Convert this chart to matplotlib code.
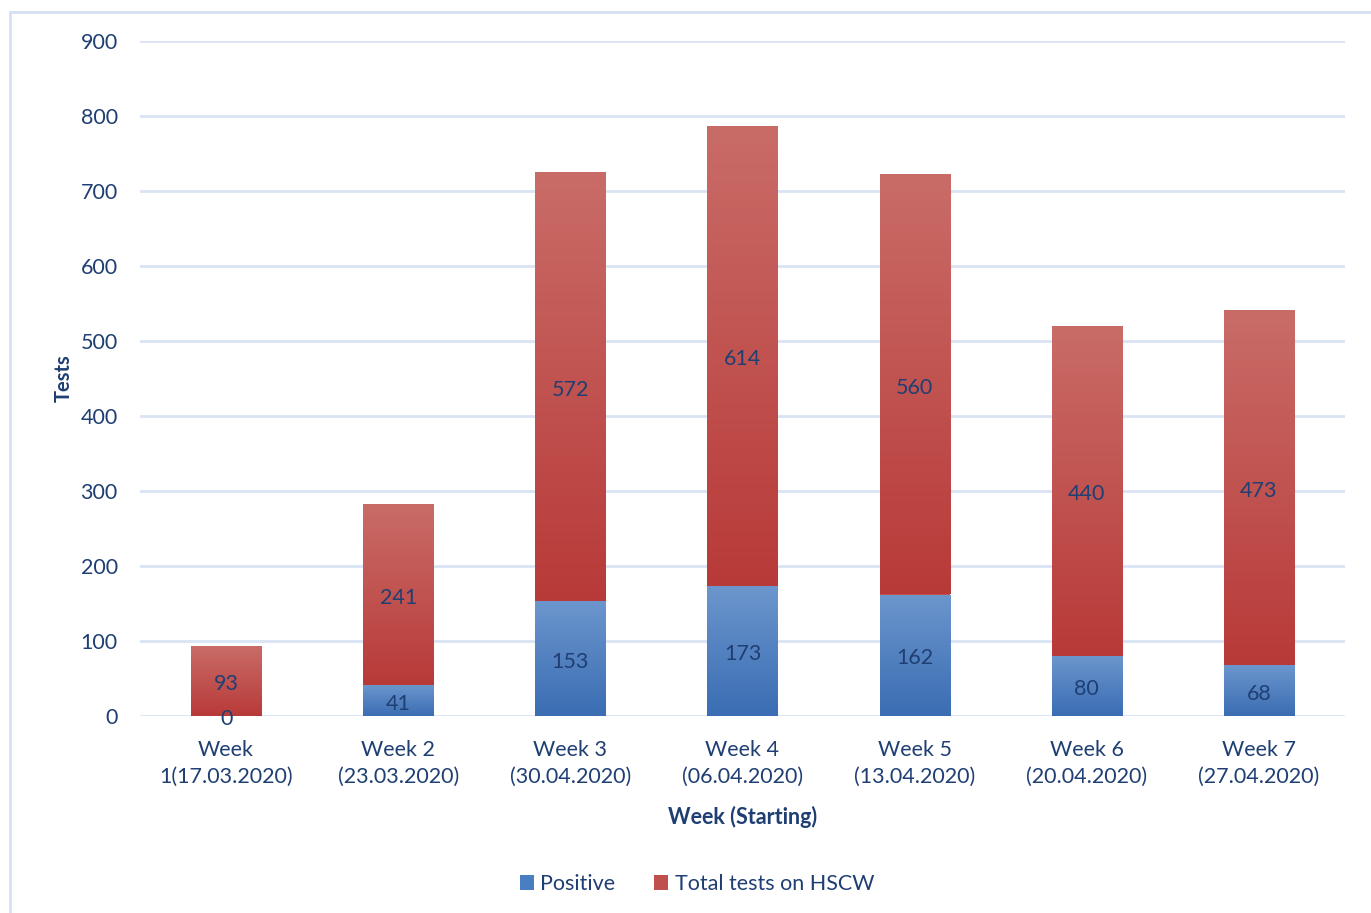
import numpy as np
import matplotlib.pyplot as plt
from matplotlib.colors import LinearSegmentedColormap
from matplotlib.patches import Rectangle

weeks = ['Week\n1(17.03.2020)', 'Week 2\n(23.03.2020)', 'Week 3\n(30.04.2020)',
         'Week 4\n(06.04.2020)', 'Week 5\n(13.04.2020)', 'Week 6\n(20.04.2020)',
         'Week 7\n(27.04.2020)']
positive = [0, 41, 153, 173, 162, 80, 68]
total_hscw = [93, 241, 572, 614, 560, 440, 473]

txt = '#1F3F73'
plt.rcParams['font.family'] = ['Lato', 'DejaVu Sans']

fig = plt.figure(figsize=(13.71, 9.13), dpi=100)
ax = fig.add_axes([140 / 1371, 197 / 913, 1205 / 1371, 675 / 913])

# outer chart border
fig.patches.append(Rectangle((10 / 1371, -0.01), 1.2, (913 - 12) / 913 + 0.01,
                             transform=fig.transFigure, fill=False,
                             edgecolor='#D5E1F2', linewidth=2))

x = np.arange(len(weeks))
w = 0.407
b1 = ax.bar(x, positive, w, color='#4A7EC2', label='Positive', zorder=2)
b2 = ax.bar(x, total_hscw, w, bottom=positive, color='#C0504D',
            label='Total tests on HSCW', zorder=2)

blue = LinearSegmentedColormap.from_list('b', ['#3A6DB3', '#6C96CD'])
red = LinearSegmentedColormap.from_list('r', ['#B83A38', '#C96C68'])
grad = np.linspace(0, 1, 256).reshape(-1, 1)
for bars, cm in ((b1, blue), (b2, red)):
    for p in bars:
        if p.get_height() <= 0:
            continue
        x0, y0 = p.get_x(), p.get_y()
        im = ax.imshow(grad, cmap=cm, origin='lower', aspect='auto',
                       extent=(x0, x0 + p.get_width(), y0, y0 + p.get_height()),
                       zorder=2.1)
        im.set_clip_path(p)

fs = 15.5
for i in range(len(weeks)):
    ax.text(x[i], positive[i] / 2 - 4, str(positive[i]), ha='center', va='center',
            fontsize=fs, color=txt, zorder=3)
    ax.text(x[i], positive[i] + total_hscw[i] / 2 - 4, str(total_hscw[i]),
            ha='center', va='center', fontsize=fs, color=txt, zorder=3)

ax.set_xlim(-0.5, len(weeks) - 0.5)
ax.set_ylim(0, 900)
ax.set_yticks(range(0, 901, 100))
ax.set_xticks(x)
ax.set_xticklabels(weeks, fontsize=fs, color=txt, linespacing=1.45)
ax.tick_params(axis='y', labelsize=fs, labelcolor=txt, length=0, pad=16)
ax.tick_params(axis='x', length=0, pad=17)
ax.grid(axis='y', color='#D9E3F3', linewidth=2, zorder=0)
ax.set_axisbelow(True)
for s in ax.spines.values():
    s.set_visible(False)

ax.set_ylabel('Tests', fontsize=14.5, fontweight='bold', color=txt, labelpad=5)
ax.set_xlabel('Week (Starting)', fontsize=fs, fontweight='bold', color=txt, labelpad=14)

leg = fig.legend(handles=[b1, b2], loc='center', bbox_to_anchor=(697 / 1371, 1 - 884 / 913),
                 ncol=2, frameon=False, fontsize=fs, handlelength=0.65, handleheight=0.65,
                 handletextpad=0.3, columnspacing=1.8)
for t in leg.get_texts():
    t.set_color(txt)

fig.savefig('out.png', dpi=100)
